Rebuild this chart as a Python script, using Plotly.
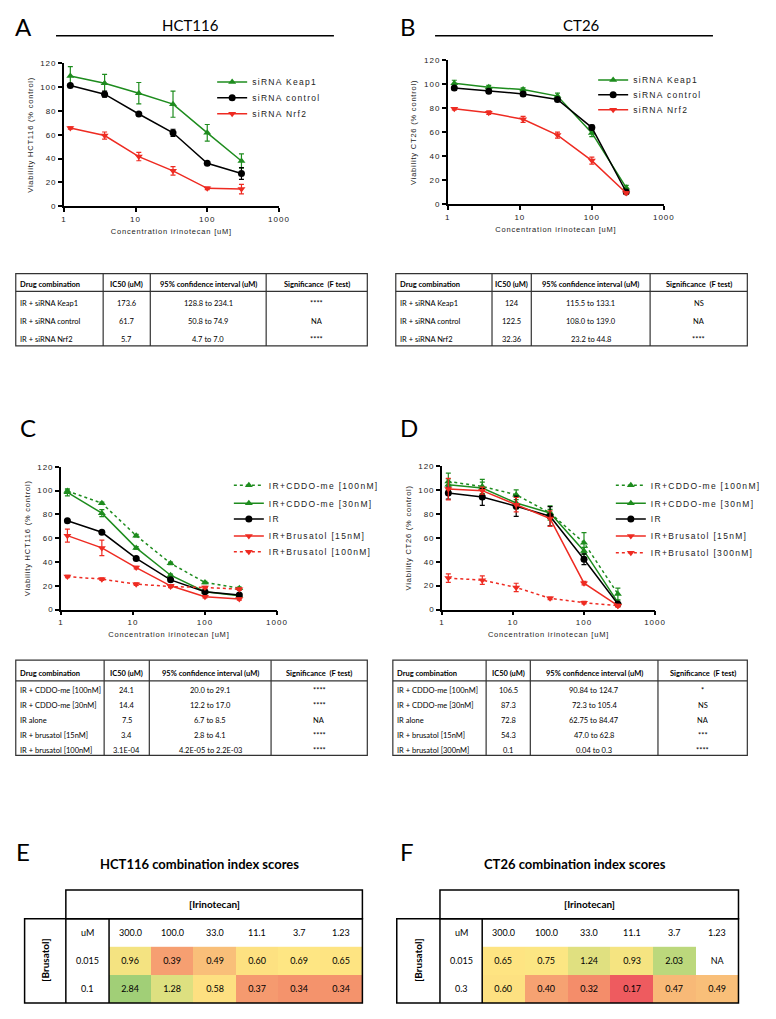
import plotly.graph_objects as go

W, H = 776, 1019
def fx(x): return x / W
def fy(y): return 1 - y / H
def sp(text, s):
    return f'<span style="letter-spacing:{s}px">{text}</span>'

GREEN = "#1e8c1e"
RED = "#ee2b22"
BLACK = "#000000"

conc = [1.23, 3.7, 11.1, 33.3, 100, 300]

# ---- Panel A (HCT116, siRNA) ----
a_keap1 = [109.4, 103.3, 95.0, 85.8, 61.7, 38.0]
a_keap1_err = [8, 7.5, 9, 11, 7, 6]
a_ctrl = [101.5, 94.2, 77.5, 61.7, 36.1, 27.5]
a_ctrl_err = [1.5, 2.5, 1, 3, 1, 5]
a_nrf2 = [65.8, 59.4, 41.7, 29.7, 15.0, 14.4]
a_nrf2_err = [1, 3, 3.5, 3.5, 1, 4]

# ---- Panel B (CT26, siRNA) ----
b_keap1 = [101.0, 97.7, 95.7, 90.3, 59.5, 13.8]
b_keap1_err = [2.5, 1.5, 1.5, 2.5, 3, 2]
b_ctrl = [97.0, 94.3, 92.1, 87.4, 64.0, 10.2]
b_ctrl_err = [1.5, 1.5, 1.5, 1.5, 2, 1.5]
b_nrf2 = [79.7, 76.4, 70.9, 57.7, 36.4, 9.4]
b_nrf2_err = [1, 1.5, 2.5, 2.5, 3, 1]

# ---- Panel C (HCT116, drugs) ----
c_cddo100 = [99.7, 89.4, 62.2, 38.9, 22.8, 18.0]
c_cddo100_err = [1, 1, 1, 1, 1, 1]
c_cddo30 = [98.6, 81.1, 51.9, 28.9, 15.0, 11.7]
c_cddo30_err = [3, 3, 1, 1, 1, 1]
c_ir = [74.7, 65.0, 43.0, 25.0, 15.0, 12.2]
c_ir_err = [1, 1, 1, 1, 1, 1]
c_brus15 = [62.2, 51.9, 35.3, 20.0, 10.8, 8.9]
c_brus15_err = [5.5, 6.5, 1, 1, 1, 1]
c_brus100 = [27.8, 25.6, 21.4, 19.4, 18.6, 17.2]
c_brus100_err = [1, 1, 1, 1, 1, 1]

# ---- Panel D (CT26, drugs) ----
d_cddo100 = [107.0, 102.8, 95.9, 80.7, 55.8, 13.0]
d_cddo100_err = [7, 6, 4, 6, 8.5, 5]
d_cddo30 = [104.2, 101.5, 89.0, 80.7, 49.0, 6.0]
d_cddo30_err = [5, 5, 5, 3, 3, 2]
d_ir = [97.3, 94.0, 86.3, 78.0, 42.0, 4.7]
d_ir_err = [5, 7, 8.5, 8, 4.5, 1]
d_brus15 = [100.6, 99.3, 87.6, 76.0, 22.1, 3.3]
d_brus15_err = [9, 3, 6, 6.5, 1.5, 1]
d_brus300 = [26.3, 24.6, 18.5, 9.4, 5.8, 3.3]
d_brus300_err = [3.5, 3.5, 3.5, 1, 1, 1]

# ---- IC50 tables ----
tbl_header = ["Drug combination", "IC50 (uM)", "95% confidence interval (uM)", "Significance  (F test)"]
ta_combo = ["IR + siRNA Keap1", "IR + siRNA control", "IR + siRNA Nrf2"]
ta_ic50 = ["173.6", "61.7", "5.7"]
ta_ci = ["128.8 to 234.1", "50.8 to 74.9", "4.7 to 7.0"]
ta_sig = ["****", "NA", "****"]
tb_combo = ["IR + siRNA Keap1", "IR + siRNA control", "IR + siRNA Nrf2"]
tb_ic50 = ["124", "122.5", "32.36"]
tb_ci = ["115.5 to 133.1", "108.0 to 139.0", "23.2 to 44.8"]
tb_sig = ["NS", "NA", "****"]
tc_combo = ["IR + CDDO-me [100nM]", "IR + CDDO-me [30nM]", "IR alone", "IR + brusatol [15nM]", "IR + brusatol [100nM]"]
tc_ic50 = ["24.1", "14.4", "7.5", "3.4", "3.1E-04"]
tc_ci = ["20.0 to 29.1", "12.2 to 17.0", "6.7 to 8.5", "2.8 to 4.1", "4.2E-05 to 2.2E-03"]
tc_sig = ["****", "****", "NA", "****", "****"]
td_combo = ["IR + CDDO-me [100nM]", "IR + CDDO-me [30nM]", "IR alone", "IR + brusatol [15nM]", "IR + brusatol [300nM]"]
td_ic50 = ["106.5", "87.3", "72.8", "54.3", "0.1"]
td_ci = ["90.84 to 124.7", "72.3 to 105.4", "62.75 to 84.47", "47.0 to 62.8", "0.04 to 0.3"]
td_sig = ["*", "NS", "NA", "***", "****"]

# ---- Combination index heatmaps ----
irino = ["300.0", "100.0", "33.0", "11.1", "3.7", "1.23"]
e_brus = ["0.015", "0.1"]
e_ci = [[0.96, 0.39, 0.49, 0.60, 0.69, 0.65],
        [2.84, 1.28, 0.58, 0.37, 0.34, 0.34]]
f_brus = ["0.015", "0.3"]
f_ci = [[0.65, 0.75, 1.24, 0.93, 2.03, None],
        [0.60, 0.40, 0.32, 0.17, 0.47, 0.49]]

ZMIN, ZMAX = 0.1, 3.0
anchors = [(0.10, "#eb4d5b"), (0.17, "#ee5b5f"), (0.33, "#f4906b"), (0.40, "#f6a272"),
           (0.49, "#f9bf79"), (0.58, "#fde081"), (0.70, "#fee683"), (1.00, "#f2e381"),
           (1.28, "#dde080"), (2.03, "#bcd87c"), (2.84, "#a1cf77"), (3.00, "#98cc76")]
colorscale = [[(v - ZMIN) / (ZMAX - ZMIN), c] for v, c in anchors]

fig = go.Figure()

TICKF = dict(family="Liberation Sans, Arial", size=8, color="#222")
TITLEF = dict(family="Liberation Sans, Arial", size=7.5, color="#222")
LEGF = dict(family="Liberation Sans, Arial", size=8.5, color="#222")

layout = dict(width=W, height=H, margin=dict(l=0, r=0, t=0, b=0),
              paper_bgcolor="white", plot_bgcolor="white", showlegend=True)

leg_count = [0]
def add_series(n, y, err, name, color, symbol, dash, text_x, row_y):
    leg_count[0] += 1
    k = leg_count[0]
    lname = "legend" if k == 1 else f"legend{k}"
    layout[lname] = dict(x=fx(text_x - 40), y=fy(row_y - 17), xanchor="left", yanchor="top",
                         font=LEGF, bgcolor="rgba(0,0,0,0)", itemwidth=30, borderwidth=0)
    fig.add_trace(go.Scatter(
        x=conc, y=y, name=sp(name, 1.3), mode="lines+markers",
        line=dict(color=color, width=1.5, dash=dash),
        marker=dict(color=color, symbol=symbol, size=7),
        error_y=dict(type="data", array=err, visible=True, color=color, thickness=1.2, width=2.5),
        xaxis=f"x{n}", yaxis=f"y{n}", legend=lname, cliponaxis=False))

add_series(1, a_keap1, a_keap1_err, "siRNA Keap1", GREEN, "triangle-up", "solid", 253, 81)
add_series(1, a_ctrl, a_ctrl_err, "siRNA control", BLACK, "circle", "solid", 253, 97)
add_series(1, a_nrf2, a_nrf2_err, "siRNA Nrf2", RED, "triangle-down", "solid", 253, 113)

add_series(2, b_keap1, b_keap1_err, "siRNA Keap1", GREEN, "triangle-up", "solid", 641, 79)
add_series(2, b_ctrl, b_ctrl_err, "siRNA control", BLACK, "circle", "solid", 641, 94)
add_series(2, b_nrf2, b_nrf2_err, "siRNA Nrf2", RED, "triangle-down", "solid", 641, 109)

DASH = "3px,3px"
add_series(3, c_cddo100, c_cddo100_err, "IR+CDDO-me [100nM]", GREEN, "triangle-up", DASH, 270, 488)
add_series(3, c_cddo30, c_cddo30_err, "IR+CDDO-me [30nM]", GREEN, "triangle-up", "solid", 270, 506)
add_series(3, c_ir, c_ir_err, "IR", BLACK, "circle", "solid", 270, 522)
add_series(3, c_brus15, c_brus15_err, "IR+Brusatol [15nM]", RED, "triangle-down", "solid", 270, 539)
add_series(3, c_brus100, c_brus100_err, "IR+Brusatol [100nM]", RED, "triangle-down", DASH, 270, 555)

add_series(4, d_cddo100, d_cddo100_err, "IR+CDDO-me [100nM]", GREEN, "triangle-up", DASH, 659, 488)
add_series(4, d_cddo30, d_cddo30_err, "IR+CDDO-me [30nM]", GREEN, "triangle-up", "solid", 659, 506)
add_series(4, d_ir, d_ir_err, "IR", BLACK, "circle", "solid", 659, 522)
add_series(4, d_brus15, d_brus15_err, "IR+Brusatol [15nM]", RED, "triangle-down", "solid", 659, 539)
add_series(4, d_brus300, d_brus300_err, "IR+Brusatol [300nM]", RED, "triangle-down", DASH, 659, 556)

xt = [1, 10, 100, 1000]
yt = [0, 20, 40, 60, 80, 100, 120]
plots = {1: ((62, 281), (60, 204), "Viability HCT116 (% control)"),
         2: ((453, 673), (57, 202), "Viability CT26 (% control)"),
         3: ((59, 279), (467, 611), "Viability HCT116 (% control)"),
         4: ((447, 664), (466, 611), "Viability CT26 (% control)")}
for n, ((x0, x1), (y0, y1), ytitle) in plots.items():
    sfx = "" if n == 1 else str(n)
    layout[f"xaxis{sfx}"] = dict(
        type="log", range=[0, 3], domain=[fx(x0), fx(x1)], anchor=f"y{n}",
        showline=True, linecolor="black", linewidth=1.5, ticks="outside", ticklen=4,
        tickwidth=1.5, tickcolor="black", tickvals=xt, ticktext=[sp(str(v), 1) for v in xt],
        tickfont=TICKF, showgrid=False, zeroline=False,
        title=dict(text=sp("Concentration irinotecan [uM]", 0.8), font=TITLEF, standoff=6))
    layout[f"yaxis{sfx}"] = dict(
        range=[0, 120], domain=[fy(y1), fy(y0)], anchor=f"x{n}",
        showline=True, linecolor="black", linewidth=1.5, ticks="outside", ticklen=4,
        tickwidth=1.5, tickcolor="black", tickvals=yt, ticktext=[sp(str(v), 1) for v in yt],
        tickfont=TICKF, showgrid=False, zeroline=False,
        title=dict(text=sp(ytitle, 0.8), font=TITLEF, standoff=6))

shapes = []
annotations = []
def line(x0, y0, x1, y1, w=1.5, color="black"):
    shapes.append(dict(type="line", xref="paper", yref="paper", x0=fx(x0), y0=fy(y0),
                       x1=fx(x1), y1=fy(y1), line=dict(color=color, width=w)))
def text(x, y, t, size, bold=False, family="Lato", angle=0, anchor="center"):
    annotations.append(dict(x=fx(x), y=fy(y), xref="paper", yref="paper",
                            text=f"<b>{t}</b>" if bold else t, showarrow=False,
                            font=dict(family=family, size=size, color="black"),
                            xanchor=anchor, yanchor="middle", textangle=angle))

# Panel letters and headings
for L, (x, y) in {"A": (21, 23), "B": (412, 23), "C": (25, 427), "D": (413, 427),
                  "E": (20, 855), "F": (411, 855)}.items():
    text(x, y, L, 24)
text(191, 21, "HCT116", 15)
text(589, 21, "CT26", 15)
line(54, 32, 337, 32)
line(440, 32, 723, 32)

# IC50 tables (text placed per row/column, borders drawn as shapes)
def add_table(bounds, top, head_h, row_h, combo, ic50, ci, sig):
    cols = [combo, ic50, ci, sig]
    off = 2.5
    for j, h in enumerate(tbl_header):
        yc = top + head_h / 2 + off
        if j == 0:
            text(bounds[0] + 2, yc, h, 7.5, bold=True, anchor="left")
        else:
            text((bounds[j] + bounds[j + 1]) / 2, yc, h, 7.5, bold=True)
    for i in range(len(combo)):
        yc = top + head_h + row_h * (i + 0.5) + off
        for j, col in enumerate(cols):
            if j == 0:
                text(bounds[0] + 2, yc, col[i], 7.5, anchor="left")
            else:
                text((bounds[j] + bounds[j + 1]) / 2, yc, col[i], 7.5)
    bottom = top + head_h + row_h * len(combo)
    shapes.append(dict(type="rect", xref="paper", yref="paper", x0=fx(bounds[0]), x1=fx(bounds[-1]),
                       y0=fy(top), y1=fy(bottom), line=dict(color="#333", width=1.2)))
    for b in bounds[1:-1]:
        line(b, top, b, bottom, 1.2, "#333")
    line(bounds[0], top + head_h, bounds[-1], top + head_h, 1.2, "#333")

add_table([13, 102, 150, 268, 371], 272, 18, 18.33, ta_combo, ta_ic50, ta_ci, ta_sig)
add_table([400, 498, 538, 659, 758], 272, 18, 18.33, tb_combo, tb_ic50, tb_ci, tb_sig)
add_table([13, 103, 149, 273, 371], 662, 21, 15, tc_combo, tc_ic50, tc_ci, tc_sig)
add_table([397, 492, 537, 667, 758], 662, 21, 15, td_combo, td_ic50, td_ci, td_sig)

# Heatmaps
def add_heat(n, z, rows, title, tx, left, col_x, data_x0, data_x1):
    xi = list(range(len(irino)))
    yi = list(range(len(rows)))
    fig.add_trace(go.Heatmap(
        z=z, x=xi, y=yi, xaxis=f"x{n}", yaxis=f"y{n}",
        text=[[("NA" if v is None else f"{v:.2f}") for v in r] for r in z],
        texttemplate="%{text}", textfont=dict(family="Lato", size=9, color="black"),
        colorscale=colorscale, zmin=ZMIN, zmax=ZMAX, showscale=False, hoverinfo="skip"))
    layout[f"xaxis{n}"] = dict(domain=[fx(data_x0), fx(data_x1)], anchor=f"y{n}",
                               range=[-0.5, len(irino) - 0.5], visible=False)
    layout[f"yaxis{n}"] = dict(domain=[fy(1008), fy(951)], anchor=f"x{n}",
                               range=[len(rows) - 0.5, -0.5], visible=False)
    text(tx, 868, title, 13, bold=True)
    text((col_x + data_x1) / 2, 908, "[Irinotecan]", 10, bold=True)
    text((left + col_x) / 2, 965, "[Brusatol]", 10, bold=True, angle=-90)
    text((col_x + data_x0) / 2, 937, "uM", 9)
    for i, c in zip(xi, irino):
        annotations.append(dict(x=i, xref=f"x{n}", y=fy(937), yref="paper", text=c, showarrow=False,
                                font=dict(family="Lato", size=9, color="black"),
                                xanchor="center", yanchor="middle"))
    for i, r in zip(yi, rows):
        annotations.append(dict(x=fx((col_x + data_x0) / 2), xref="paper", y=i, yref=f"y{n}", text=r,
                                showarrow=False, font=dict(family="Lato", size=9, color="black"),
                                xanchor="center", yanchor="middle"))
    shapes.append(dict(type="rect", xref="paper", yref="paper", x0=fx(col_x), x1=fx(data_x1),
                       y0=fy(894), y1=fy(923), line=dict(color="black", width=1.5)))
    shapes.append(dict(type="rect", xref="paper", yref="paper", x0=fx(left), x1=fx(data_x1),
                       y0=fy(923), y1=fy(1008), line=dict(color="black", width=1.5)))
    line(col_x, 923, col_x, 1008)
    line(data_x0, 923, data_x0, 1008)

add_heat(5, e_ci, e_brus, "HCT116 combination index scores", 200, 22, 64, 108, 366)
add_heat(6, f_ci, f_brus, "CT26 combination index scores", 582, 401, 445, 488, 749)

layout["shapes"] = shapes
layout["annotations"] = annotations
fig.update_layout(**layout)
fig.write_html("out.html", config={"displayModeBar": False},
               post_script="document.body.style.margin='0';document.body.style.overflow='hidden';")
